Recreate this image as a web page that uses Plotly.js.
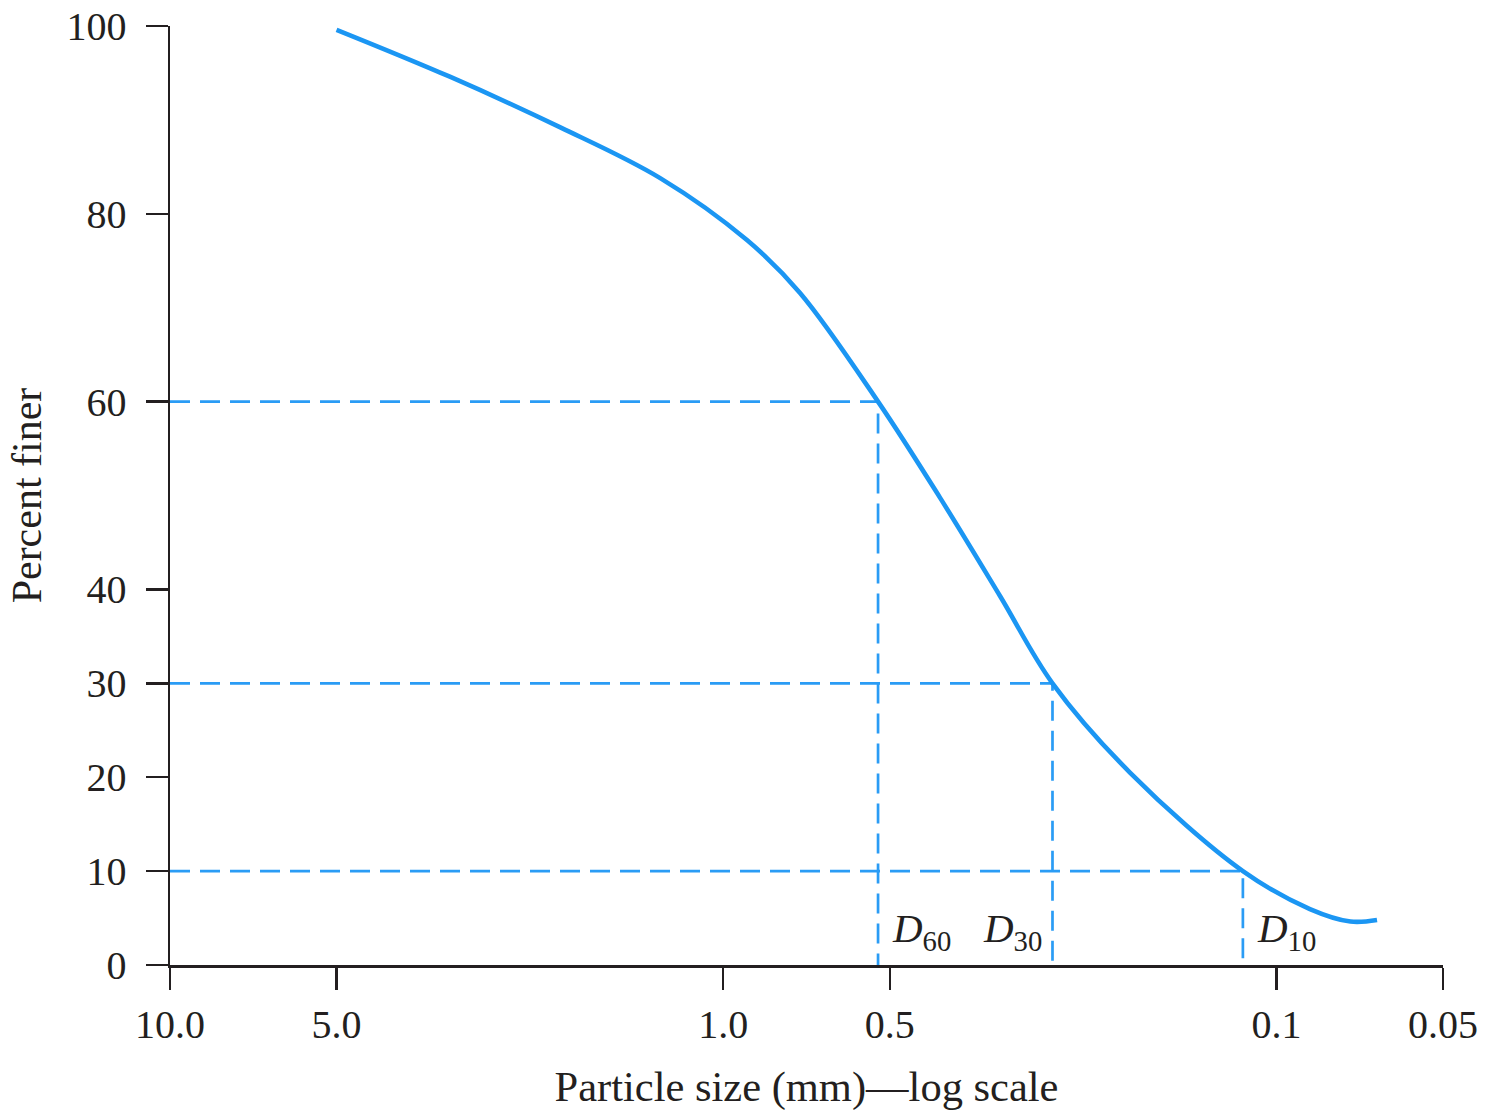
<!DOCTYPE html>
<html>
<head>
<meta charset="utf-8">
<script src="https://cdn.plot.ly/plotly-3.0.1.min.js"></script>
<style>
  html, body { margin: 0; padding: 0; background: #ffffff; }
  #chart { width: 1486px; height: 1113px; }
</style>
</head>
<body>
<div id="chart"></div>
<script>
// ---- Data ----
const particleSize = [5.0, 3.12, 1.97, 1.30, 0.906, 0.727, 0.525, 0.406, 0.316, 0.254, 0.184, 0.115, 0.087, 0.0735, 0.0658];
const percentFiner = [99.6, 94.6, 89.2, 83.8, 77.2, 71.6, 60, 49.8, 39.3, 30, 20.5, 10, 5.96, 4.63, 4.79];

const dLabels = ['60', '30', '10'];
const dPercent = [60, 30, 10];
const dSize = [0.525, 0.254, 0.115];

const xTickVals = [10, 5, 1, 0.5, 0.1, 0.05];
const xTickText = ['10.0', '5.0', '1.0', '0.5', '0.1', '0.05'];
const yTickVals = [0, 10, 20, 30, 40, 60, 80, 100];
const yTickText = ['0', '10', '20', '30', '40', '60', '80', '100'];

const xMax = 10, xMin = 0.05;

// ---- Styles ----
const curveColor = '#1b96f3';
const dashColor = '#2a9cf5';
const inkColor = '#231f20';
const serif = 'Liberation Serif, Times New Roman, serif';

const traces = [];
// dashed guide lines: horizontal from axis to curve, vertical from curve to 0
dSize.forEach((d, i) => {
  traces.push({
    x: [xMax, d, d],
    y: [dPercent[i], dPercent[i], 0],
    mode: 'lines',
    line: { color: dashColor, width: 2.7, dash: '20px,10px' },
    hoverinfo: 'skip',
    showlegend: false
  });
});
traces.push({
  x: particleSize,
  y: percentFiner,
  mode: 'lines',
  line: { color: curveColor, width: 4.6, shape: 'spline', smoothing: 1 },
  showlegend: false
});

const annXShift = [12, -8, 12];
const annXAnchor = ['left', 'right', 'left'];
const annotations = dLabels.map((lab, i) => ({
  x: Math.log10(dSize[i]),
  y: 0,
  xref: 'x', yref: 'y',
  text: '<i>D</i><sub>' + lab + '</sub>',
  showarrow: false,
  xanchor: annXAnchor[i],
  yanchor: 'bottom',
  xshift: annXShift[i],
  yshift: 6,
  font: { family: serif, size: 41, color: inkColor }
}));

const layout = {
  width: 1486,
  height: 1113,
  margin: { l: 170, r: 43, t: 26, b: 148 },
  paper_bgcolor: '#ffffff',
  plot_bgcolor: '#ffffff',
  showlegend: false,
  font: { family: serif, size: 40, color: inkColor },
  xaxis: {
    type: 'log',
    range: [Math.log10(xMax), Math.log10(xMin)],
    tickmode: 'array',
    tickvals: xTickVals,
    ticktext: xTickText,
    ticks: 'outside',
    ticklen: 22,
    tickwidth: 2.5,
    tickcolor: inkColor,
    showline: true,
    linecolor: inkColor,
    linewidth: 2.5,
    showgrid: false,
    zeroline: false,
    ticklabelstandoff: 0,
    tickfont: { family: serif, size: 40, color: inkColor },
    title: {
      text: 'Particle size (mm)\u2014log scale',
      font: { family: serif, size: 42.5, color: inkColor },
      standoff: 26
    }
  },
  yaxis: {
    range: [0, 100],
    tickmode: 'array',
    tickvals: yTickVals,
    ticktext: yTickText,
    ticks: 'outside',
    ticklen: 22,
    tickwidth: 2.5,
    tickcolor: inkColor,
    showline: true,
    linecolor: inkColor,
    linewidth: 2.5,
    showgrid: false,
    zeroline: false,
    ticklabelstandoff: 11,
    tickfont: { family: serif, size: 40, color: inkColor },
    title: {
      text: 'Percent finer',
      font: { family: serif, size: 42, color: inkColor },
      standoff: 12
    }
  },
  annotations: annotations
};

Plotly.newPlot('chart', traces, layout, { displayModeBar: false, staticPlot: true });
</script>
</body>
</html>
